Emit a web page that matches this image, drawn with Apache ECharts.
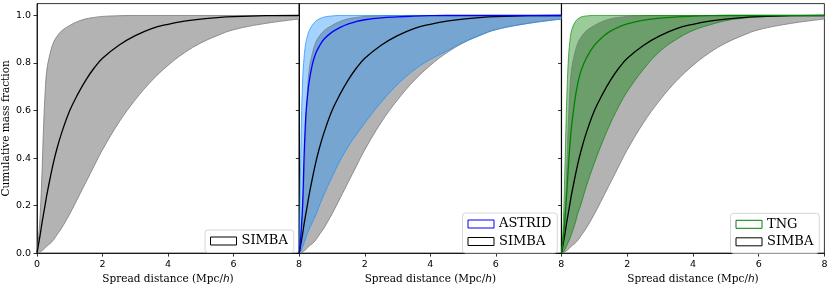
<!DOCTYPE html>
<html><head><meta charset="utf-8">
<script src="https://cdn.jsdelivr.net/npm/echarts@6/dist/echarts.min.js"></script>
<style>html,body{margin:0;padding:0;background:#fff}#c{width:831px;height:290px}</style>
</head><body><div id="c"></div>
<script>
// ---- data ----
const distance = [0,0.05,0.1,0.15,0.2,0.25,0.3,0.4,0.5,0.6,0.75,1,1.25,1.5,1.75,2,2.5,3,3.5,4,4.5,5,5.5,6,7,8];

const simbaMedian = [0,0.04,0.08,0.125,0.165,0.205,0.245,0.315,0.38,0.435,0.505,0.6,0.67,0.73,0.78,0.82,0.875,0.915,0.945,0.963,0.976,0.985,0.991,0.995,0.999,1];
const simbaUpper  = [0,0.07,0.17,0.33,0.53,0.68,0.77,0.84,0.885,0.91,0.935,0.958,0.975,0.986,0.992,0.996,0.999,1,1,1,1,1,1,1,1,1];
const simbaLower  = [0,0.001,0.005,0.01,0.015,0.022,0.03,0.04,0.055,0.075,0.105,0.165,0.232,0.3,0.368,0.435,0.55,0.645,0.725,0.79,0.843,0.884,0.915,0.94,0.967,0.985];

const astridMedian = [0,0.08,0.2,0.42,0.58,0.66,0.72,0.795,0.84,0.868,0.9,0.93,0.95,0.965,0.975,0.982,0.99,0.994,0.997,0.999,1,1,1,1,1,1];
const astridUpper  = [0,0.45,0.72,0.83,0.885,0.915,0.935,0.96,0.975,0.985,0.993,0.998,1,1,1,1,1,1,1,1,1,1,1,1,1,1];
const astridLower  = [0,0.01,0.025,0.045,0.065,0.085,0.1,0.13,0.16,0.195,0.245,0.32,0.39,0.45,0.5,0.548,0.635,0.71,0.77,0.815,0.85,0.887,0.916,0.941,0.967,0.985];

const tngMedian = [0,0.06,0.14,0.24,0.35,0.45,0.53,0.64,0.72,0.77,0.82,0.875,0.91,0.935,0.952,0.965,0.98,0.989,0.994,0.997,0.999,1,1,1,1,1];
const tngUpper  = [0,0.12,0.35,0.62,0.8,0.89,0.935,0.97,0.986,0.994,0.998,1,1,1,1,1,1,1,1,1,1,1,1,1,1,1];
const tngLower  = [0,0.005,0.015,0.03,0.045,0.06,0.08,0.12,0.17,0.21,0.28,0.38,0.47,0.55,0.62,0.68,0.775,0.85,0.9,0.937,0.96,0.978,0.988,0.994,0.999,1];

const xTicks = [0,2,4,6,8];
const yTicks = [0,0.2,0.4,0.6,0.8,1.0];
const yLabelName = 'Cumulative mass fraction';

// ---- build ----
const SM = 0.4;
function pairs(xs, ys){ return xs.map((x,i)=>[x, ys[i]]); }
// [y, x] order so that the stacked dimension is y
function pairsYX(xs, ys){ return xs.map((x,i)=>[ys[i], x]); }
function band(p, name, lower, upper, fill, edge){
  const stack = name + '_' + p;
  return [
    {type:'line', name:name+' lower', xAxisIndex:p, yAxisIndex:p, stack, encode:{x:1, y:0},
     data:pairsYX(distance, lower),
     symbol:'none', smooth:SM, lineStyle:{color:edge, width:0.8}, z:2, silent:true},
    {type:'line', name, xAxisIndex:p, yAxisIndex:p, stack, encode:{x:1, y:0},
     data:pairsYX(distance, upper.map((u,i)=>u-lower[i])),
     symbol:'none', smooth:SM, lineStyle:{color:edge, width:0.8}, areaStyle:{color:fill, opacity:1}, z:2, silent:true}
  ];
}
function median(p, name, ys, color){
  return {type:'line', name:name+' median', xAxisIndex:p, yAxisIndex:p, data:pairs(distance, ys),
    symbol:'none', smooth:SM, lineStyle:{color, width:1.3}, z:4, silent:true};
}
const GRAY = '#b3b3b3', GRAYEDGE = '#7a7a7a';
const series = [];
for (let p=0;p<3;p++) series.push(...band(p,'SIMBA',simbaLower,simbaUpper,GRAY,GRAYEDGE));
series.push(...band(1,'ASTRID',astridLower,astridUpper,'rgba(30,144,255,0.4)','rgba(30,144,255,0.9)'));
series.push(...band(2,'TNG',tngLower,tngUpper,'rgba(0,128,0,0.4)','rgba(0,128,0,0.8)'));
for (let p=0;p<3;p++) series.push(median(p,'SIMBA',simbaMedian,'#000'));
series.push(median(1,'ASTRID',astridMedian,'#0000ff'));
series.push(median(2,'TNG',tngMedian,'#008000'));

const gridDefs = [{left:36,width:263},{left:299.3,width:262},{left:561.6,width:262.8}];
const grid = gridDefs.map(g=>({left:g.left, width:g.width, top:3.6, height:254.7, show:true,
  borderColor:'#000', borderWidth:0.8, backgroundColor:'transparent'}));

const tickFont = {fontFamily:'DejaVu Sans', fontSize:9.5, color:'#000'};
const xAxis = [0,1,2].map(i=>({gridIndex:i, type:'value', min:0, max:8, interval:2,
  axisLine:{show:true, lineStyle:{color:'#000', width:0.8}},
  axisTick:{show:true, length:3.5, lineStyle:{color:'#000', width:0.8}},
  axisLabel:Object.assign({margin:6, showMinLabel:i===0, showMaxLabel:true}, tickFont),
  splitLine:{show:false},
  name:'{n|Spread distance (Mpc/}{i|h}{n|)}', nameLocation:'middle', nameGap:15,
  nameTextStyle:{rich:{n:{fontFamily:'DejaVu Serif', fontSize:10.5, color:'#000'},
                       i:{fontFamily:'DejaVu Sans', fontStyle:'italic', fontSize:10.5, color:'#000'}}}
}));
const yAxis = [0,1,2].map(i=>({gridIndex:i, type:'value', min:0, max:1.05,
  axisLine:{show:true, lineStyle:{color:'#000', width:0.8}},
  axisTick:{show:true, length:3.5, lineStyle:{color:'#000', width:0.8}, customValues:yTicks},
  axisLabel:Object.assign({show:i===0, margin:6, customValues:yTicks, formatter:v=>v.toFixed(1)}, tickFont),
  splitLine:{show:false},
  name:i===0?yLabelName:'', nameLocation:'middle', nameGap:21, nameRotate:90,
  nameTextStyle:{fontFamily:'DejaVu Serif', fontSize:10.5, color:'#000'}
}));

const legText = {fontFamily:'DejaVu Serif', fontSize:13, color:'#000'};
function legendItem(name, border){ return {name, icon:'rect', itemStyle:{color:'#fff', borderColor:border, borderWidth:1}}; }
function legend(left, top, items){
  return {left, top, orient:'vertical', data:items, itemWidth:26, itemHeight:8, itemGap:4.5,
    padding:[4.5,6,5,5], backgroundColor:'rgba(255,255,255,0.8)', borderColor:'#cccccc', borderWidth:0.8,
    borderRadius:3, textStyle:legText, selectedMode:false};
}
const legends = [
  legend(205, 230, [legendItem('SIMBA','#000')]),
  legend(462.5, 213, [legendItem('ASTRID','#0000ff'), legendItem('SIMBA','#000')]),
  legend(730.5, 213.3, [legendItem('TNG','#008000'), legendItem('SIMBA','#000')])
];

const chart = echarts.init(document.getElementById('c'), null, {renderer:'canvas'});
chart.setOption({animation:false, backgroundColor:'#fff', grid, xAxis, yAxis, legend:legends, series});
</script></body></html>
